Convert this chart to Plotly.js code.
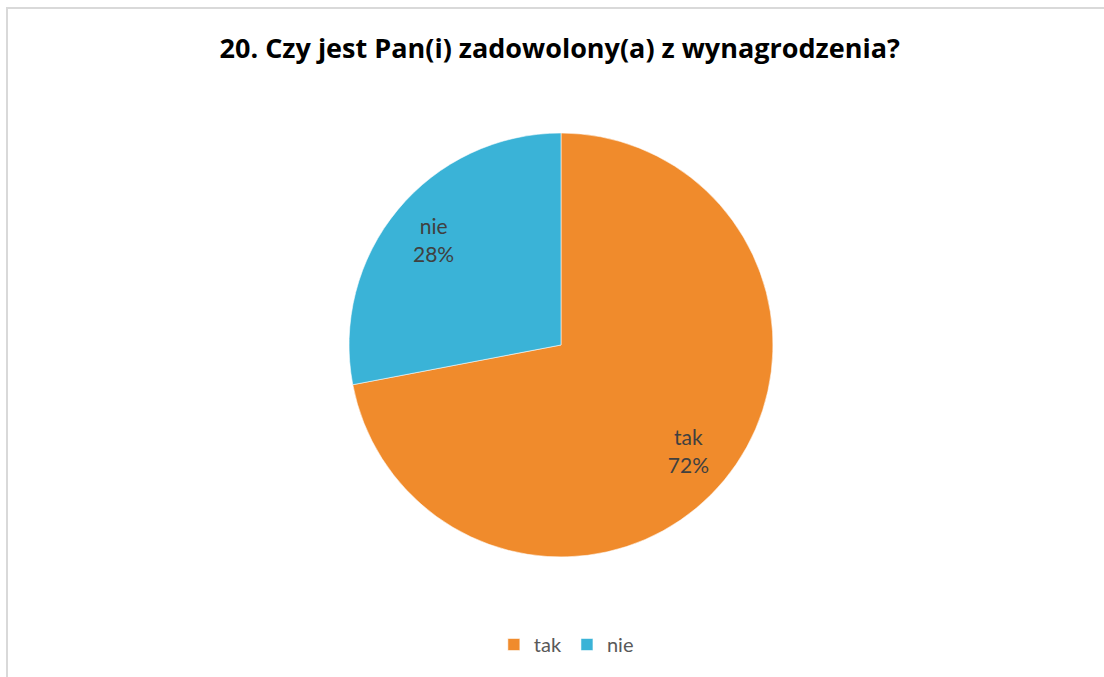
<!DOCTYPE html>
<html>
<head>
<meta charset="utf-8">
<script src="https://cdn.plot.ly/plotly-3.0.1.min.js"></script>
<style>
html,body{margin:0;padding:0;background:#fff;}
#frame{position:absolute;left:6px;top:7px;width:1098px;height:670px;border-left:2px solid #d9d9d9;border-top:2px solid #d9d9d9;box-sizing:border-box;}
#chart{position:absolute;left:0;top:0;width:1104px;height:677px;}
</style>
</head>
<body>
<div id="frame"></div>
<div id="chart"></div>
<script>
const chartTitle = "20. Czy jest Pan(i) zadowolony(a) z wynagrodzenia?";
const categories = ["tak", "nie"];
const values = [72, 28];
const colors = ["#F08B2C", "#3AB3D7"];

const pieDomain = {x: [0.3161, 0.7002], y: [0.1773, 0.8035]};
const labelFont = {family: "Lato, 'Open Sans', sans-serif", size: 21, color: "#404040"};

const slices = {
  type: "pie",
  labels: categories,
  values: values,
  sort: false,
  direction: "clockwise",
  rotation: 0,
  marker: {colors: colors, line: {color: "rgba(255,255,255,0.55)", width: 1}},
  textinfo: "none",
  hoverinfo: "label+percent",
  domain: pieDomain
};

const labelsRing = {
  type: "pie",
  labels: categories,
  values: values,
  sort: false,
  direction: "clockwise",
  rotation: 0,
  hole: 0.56,
  showlegend: false,
  marker: {colors: ["rgba(0,0,0,0)", "rgba(0,0,0,0)"], line: {width: 0}},
  texttemplate: "%{label}<br>%{percent:.0%}",
  textposition: "inside",
  insidetextorientation: "horizontal",
  textfont: labelFont,
  hoverinfo: "skip",
  domain: pieDomain
};

const layout = {
  width: 1104,
  height: 677,
  margin: {l: 0, r: 0, t: 0, b: 0},
  paper_bgcolor: "rgba(0,0,0,0)",
  plot_bgcolor: "rgba(0,0,0,0)",
  title: {
    text: "<b>" + chartTitle + "</b>",
    x: 0.507, xanchor: "center",
    y: 0.928, yanchor: "middle",
    font: {family: "'Open Sans', Lato, sans-serif", size: 27, color: "#000000"}
  },
  showlegend: true,
  legend: {
    orientation: "h",
    x: 0.513, xanchor: "center",
    y: 0.048, yanchor: "middle",
    font: {family: "Lato, 'Open Sans', sans-serif", size: 20, color: "#595959"},
    itemwidth: 30,
    traceorder: "normal"
  }
};

Plotly.newPlot("chart", [slices, labelsRing], layout, {displayModeBar: false, staticPlot: true});
</script>
</body>
</html>
